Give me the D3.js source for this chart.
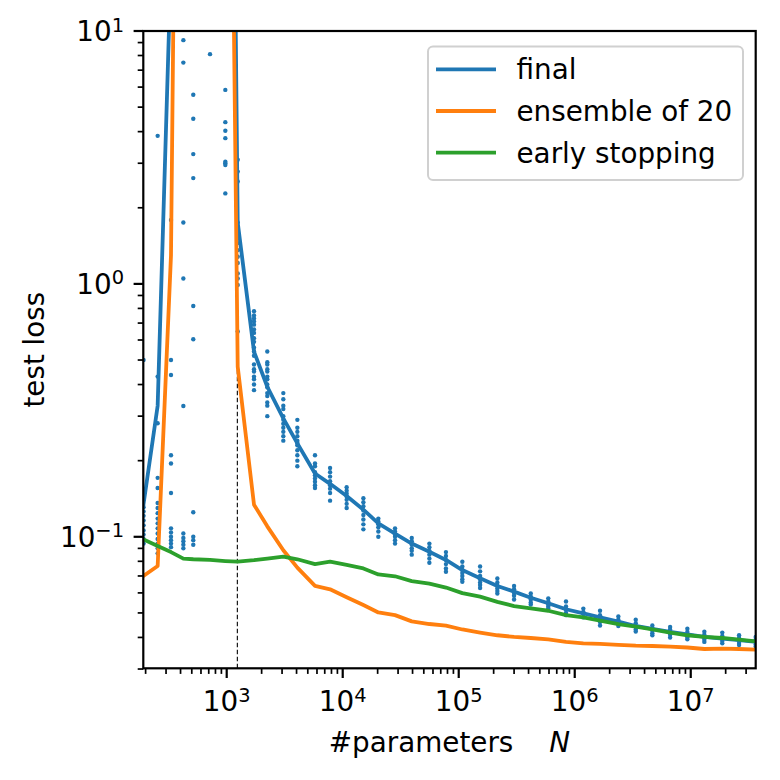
<!DOCTYPE html>
<html>
<head>
<meta charset="utf-8">
<script src="https://cdn.jsdelivr.net/npm/d3@7"></script>
<style>
  html, body { margin: 0; padding: 0; background: #fff; }
  svg { display: block; font-family: "DejaVu Sans", sans-serif; }
</style>
</head>
<body>
<svg id="chart" width="780" height="780"></svg>
<script>
// ---------------- data ----------------
const paramCounts = [192, 254, 331, 423, 515, 718, 973, 1244, 1719, 2238, 3076, 4064, 5768, 7780,
  10814, 15070, 20280, 28250, 39360, 55850, 77600, 107400, 152800, 215300, 299900, 417800,
  591600, 841000, 1186000, 1652000, 2377000, 3357000, 4667000, 6640000, 9350000, 13100000,
  18700000, 26100000, 36300000];

const finalLoss = [0.135, 0.33, 18.6, 1e5, 1e5, 1e5, 1e5, 1.75, 0.54, 0.392, 0.294, 0.234, 0.178,
  0.162, 0.145, 0.128, 0.113, 0.103, 0.094, 0.0872, 0.081, 0.0739, 0.0686, 0.0639, 0.0607, 0.0574,
  0.0546, 0.0517, 0.0498, 0.048, 0.0462, 0.0444, 0.0432, 0.0421, 0.0411, 0.0402, 0.0396, 0.039, 0.0384];

const ensembleLoss = [0.070, 0.0767, 1.3, 1e5, 1e5, 1e5, 1.2e4, 0.47, 0.134, 0.11, 0.0885, 0.0755,
  0.064, 0.062, 0.0577, 0.0537, 0.0502, 0.049, 0.0463, 0.0452, 0.0445, 0.043, 0.0418, 0.0408, 0.0402,
  0.0398, 0.0393, 0.0384, 0.0379, 0.0377, 0.0374, 0.0371, 0.037, 0.0368, 0.0365, 0.036, 0.0361, 0.036, 0.0358];

const earlyStopLoss = [0.0977, 0.092, 0.087, 0.082, 0.0815, 0.081, 0.0802, 0.0797, 0.0808, 0.082,
  0.0834, 0.0815, 0.078, 0.0797, 0.0774, 0.075, 0.071, 0.0698, 0.0668, 0.0653, 0.063, 0.0599, 0.058,
  0.0553, 0.0532, 0.0521, 0.051, 0.049, 0.048, 0.0466, 0.0452, 0.0441, 0.043, 0.0418, 0.0408, 0.0402,
  0.0398, 0.0392, 0.0386];

// individual runs (one list per entry of paramCounts)
const runLosses = [
  [0.50, 0.131, 0.126, 0.121, 0.116, 0.111, 0.106, 0.102, 0.098, 0.094],
  [3.85, 0.43, 0.281, 0.171, 0.156, 0.136, 0.13, 0.124, 0.118, 0.113, 0.108, 0.103, 0.098, 0.094, 0.09, 0.086],
  [1.79, 0.50, 0.436, 0.21, 0.195, 0.149, 0.108, 0.104, 0.10, 0.097, 0.094, 0.091],
  [9.2, 7.5, 1.75, 1.05, 0.329, 0.103, 0.099, 0.096, 0.093, 0.09],
  [5.6, 4.5, 3.26, 2.62, 0.818, 0.604, 0.125, 0.1, 0.097, 0.093],
  [8.1],
  [5.85, 4.36, 4.03, 3.77, 3.04, 3.0, 2.95, 2.28],
  [3.1, 2.78, 2.54, 1.75, 1.45, 1.36, 1.28, 1.21, 1.10, 1.05, 0.99, 0.648],
  [0.78, 0.75, 0.73, 0.71, 0.69, 0.66, 0.64, 0.61, 0.59, 0.56, 0.54, 0.52, 0.48, 0.46, 0.45, 0.43, 0.42, 0.40, 0.38],
  [0.54, 0.49, 0.48, 0.46, 0.45, 0.43, 0.42, 0.40, 0.39, 0.37, 0.36, 0.34, 0.33, 0.30],
  [0.37, 0.35, 0.33, 0.32, 0.30, 0.29, 0.28, 0.27, 0.26, 0.25, 0.24],
  [0.29, 0.27, 0.26, 0.25, 0.24, 0.235, 0.23, 0.22, 0.21, 0.20, 0.19],
  [0.21, 0.195, 0.19, 0.18, 0.175, 0.17, 0.165, 0.16, 0.156],
  [0.187, 0.18, 0.173, 0.166, 0.16, 0.155, 0.149, 0.139],
  [0.157, 0.152, 0.148, 0.144, 0.14, 0.135, 0.13],
  [0.142, 0.137, 0.132, 0.127, 0.122, 0.117, 0.112, 0.107],
  [0.118, 0.115, 0.112, 0.109, 0.105, 0.1],
  [0.108, 0.105, 0.102, 0.1, 0.097, 0.094],
  [0.099, 0.096, 0.093, 0.09, 0.088, 0.085],
  [0.094, 0.091, 0.088, 0.085, 0.082, 0.079],
  [0.087, 0.084, 0.081, 0.078, 0.075, 0.0727],
  [0.0797, 0.0763, 0.074, 0.072, 0.07, 0.068, 0.0664],
  [0.0763, 0.073, 0.07, 0.068, 0.066, 0.0645, 0.0627],
  [0.0684, 0.066, 0.064, 0.0625, 0.061, 0.0597],
  [0.0639, 0.062, 0.06, 0.0585, 0.0565],
  [0.0597, 0.058, 0.0565, 0.055, 0.054],
  [0.0571, 0.0555, 0.054, 0.053, 0.052],
  [0.0555, 0.053, 0.0515, 0.05, 0.049],
  [0.052, 0.0505, 0.0495, 0.048],
  [0.051, 0.049, 0.0475, 0.046, 0.0446],
  [0.0484, 0.047, 0.046, 0.0452, 0.0444],
  [0.047, 0.0455, 0.044, 0.043, 0.0422],
  [0.0446, 0.0435, 0.0425, 0.0416, 0.0408],
  [0.044, 0.043, 0.042, 0.041, 0.04],
  [0.0433, 0.042, 0.041, 0.04, 0.0393],
  [0.0421, 0.041, 0.040, 0.0392, 0.0384],
  [0.0418, 0.0405, 0.0395, 0.0387, 0.0379],
  [0.0408, 0.0398, 0.039, 0.038, 0.0373],
  [0.0402, 0.0392, 0.0384, 0.0375, 0.0368]
];

const jammingN = 1235;
const jammingTop = 1.0;

const seriesNames = ["final", "ensemble of 20", "early stopping"];
const seriesColors = ["#1f77b4", "#ff7f0e", "#2ca02c"];
const xTickExps = [3, 4, 5, 6, 7];
const yTickExps = [-1, 0, 1];
const xDomain = [191, 3.63e7];
const yDomain = [0.0302, 10];

// ---------------- layout ----------------
const plot = { left: 143.3, right: 755.7, top: 31, bottom: 668.3 };
const FS = 27.8;

const svg = d3.select("#chart");
const x = d3.scaleLog().domain(xDomain).range([plot.left, plot.right]);
const y = d3.scaleLog().domain(yDomain).range([plot.bottom, plot.top]);

svg.append("defs").append("clipPath").attr("id", "clip")
  .append("rect")
  .attr("x", plot.left).attr("y", plot.top)
  .attr("width", plot.right - plot.left).attr("height", plot.bottom - plot.top);

const g = svg.append("g").attr("clip-path", "url(#clip)");

// dots
const dots = [];
runLosses.forEach((vals, i) => vals.forEach(v => dots.push({ n: paramCounts[i], v })));
g.selectAll("circle.run").data(dots).enter().append("circle")
  .attr("class", "run")
  .attr("cx", d => x(d.n)).attr("cy", d => y(d.v)).attr("r", 2.2)
  .attr("fill", seriesColors[0]);

// dashed jamming line
g.append("line")
  .attr("x1", x(jammingN)).attr("x2", x(jammingN))
  .attr("y1", y(yDomain[0])).attr("y2", y(jammingTop))
  .attr("stroke", "#000").attr("stroke-width", 1.1).attr("stroke-dasharray", "4.5,2.5");

const line = d3.line().x((d, i) => x(paramCounts[i])).y(d => y(d));
[finalLoss, ensembleLoss, earlyStopLoss].forEach((s, k) => {
  g.append("path").datum(s).attr("d", line)
    .attr("fill", "none").attr("stroke", seriesColors[k])
    .attr("stroke-width", 3.8).attr("stroke-linejoin", "round").attr("stroke-linecap", "square");
});

// ---------------- axes ----------------
const axisG = svg.append("g");
const xMinor = [];
for (let e = 2; e <= 7; e++) for (let m = 1; m <= 9; m++) {
  const v = m * Math.pow(10, e);
  if (v >= xDomain[0] && v <= xDomain[1]) xMinor.push({ v, major: m === 1 });
}
axisG.selectAll("line.xt").data(xMinor).enter().append("line")
  .attr("x1", d => x(d.v)).attr("x2", d => x(d.v))
  .attr("y1", plot.bottom).attr("y2", d => plot.bottom + (d.major ? 9.7 : 5.6))
  .attr("stroke", "#000").attr("stroke-width", d => d.major ? 2.2 : 1.7);

const yMinor = [];
for (let e = -2; e <= 1; e++) for (let m = 1; m <= 9; m++) {
  const v = m * Math.pow(10, e);
  if (v >= yDomain[0] * 0.99 && v <= yDomain[1] * 1.001) yMinor.push({ v, major: m === 1 });
}
axisG.selectAll("line.yt").data(yMinor).enter().append("line")
  .attr("y1", d => y(d.v)).attr("y2", d => y(d.v))
  .attr("x1", plot.left).attr("x2", d => plot.left - (d.major ? 9.7 : 5.6))
  .attr("stroke", "#000").attr("stroke-width", d => d.major ? 2.2 : 1.7);

axisG.append("rect")
  .attr("x", plot.left).attr("y", plot.top)
  .attr("width", plot.right - plot.left).attr("height", plot.bottom - plot.top)
  .attr("fill", "none").attr("stroke", "#000").attr("stroke-width", 2.2);

xTickExps.forEach(e => {
  const t = axisG.append("text")
    .attr("x", x(Math.pow(10, e))).attr("y", 711)
    .attr("text-anchor", "middle").attr("font-size", FS).attr("fill", "#000");
  t.append("tspan").text("10");
  t.append("tspan").attr("dy", -9.5).attr("font-size", FS * 0.7).text(String(e));
});
yTickExps.forEach(e => {
  const t = axisG.append("text")
    .attr("x", 124).attr("y", y(Math.pow(10, e)) + 10)
    .attr("text-anchor", "end").attr("font-size", FS).attr("fill", "#000");
  t.append("tspan").text("10");
  t.append("tspan").attr("dy", -9.5).attr("font-size", FS * 0.7).text(e < 0 ? "\u2212" + (-e) : String(e));
});

const xl = svg.append("text")
  .attr("x", (plot.left + plot.right) / 2).attr("y", 751.7)
  .attr("text-anchor", "middle").attr("font-size", FS).attr("fill", "#000");
xl.append("tspan").text("#parameters");
xl.append("tspan").attr("dx", 36).attr("font-style", "italic").text("N");

svg.append("text")
  .attr("transform", `translate(44,${(plot.top + plot.bottom) / 2}) rotate(-90)`)
  .attr("text-anchor", "middle").attr("font-size", FS).attr("fill", "#000")
  .text("test loss");

// ---------------- legend ----------------
const lg = svg.append("g");
lg.append("rect")
  .attr("x", 428).attr("y", 46.5).attr("width", 315).attr("height", 133.5)
  .attr("rx", 5).attr("ry", 5)
  .attr("fill", "#fff").attr("fill-opacity", 0.8)
  .attr("stroke", "#d0d0d0").attr("stroke-width", 2);
seriesNames.forEach((name, i) => {
  const cy = 69.3 + i * 41.7;
  lg.append("line").attr("x1", 436).attr("x2", 496).attr("y1", cy).attr("y2", cy)
    .attr("stroke", seriesColors[i]).attr("stroke-width", 3.8);
  lg.append("text").attr("x", 516.5).attr("y", cy + 10)
    .attr("font-size", FS).attr("fill", "#000").text(name);
});
</script>
</body>
</html>
